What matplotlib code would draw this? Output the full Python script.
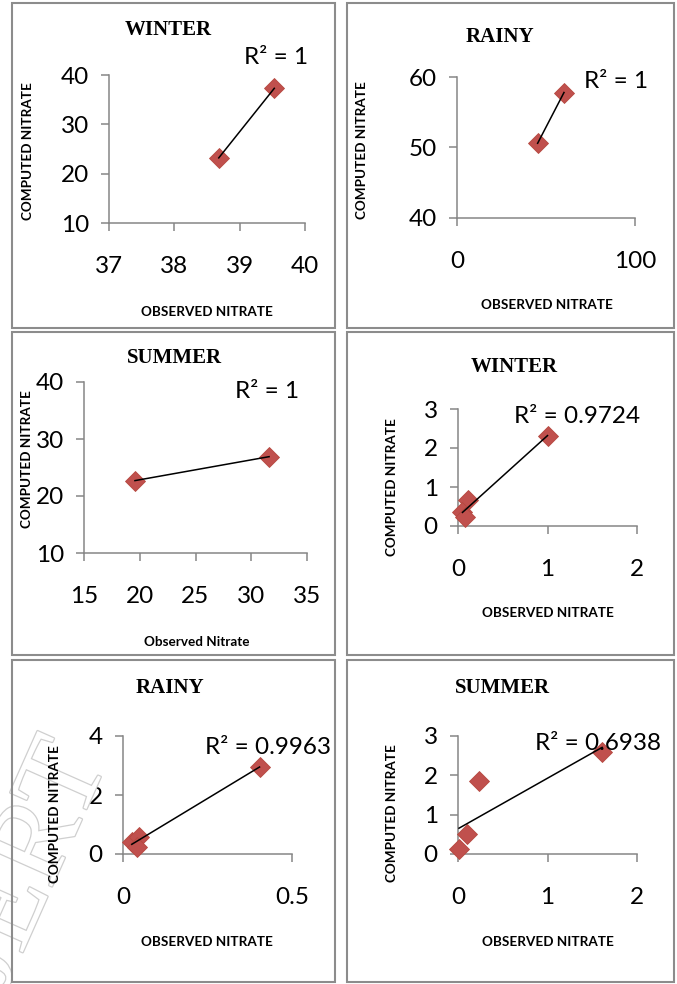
import numpy as np
import matplotlib
matplotlib.use("Agg")
import matplotlib.pyplot as plt
import matplotlib.patheffects as pe
from matplotlib.patches import Rectangle
from matplotlib.ticker import FuncFormatter

W, H = 677, 984

# data
titles = ["WINTER", "RAINY", "SUMMER", "WINTER", "RAINY", "SUMMER"]
xlabels = ["OBSERVED NITRATE", "OBSERVED NITRATE", "Observed Nitrate",
           "OBSERVED NITRATE", "OBSERVED NITRATE", "OBSERVED NITRATE"]
r2_labels = ["R² = 1", "R² = 1", "R² = 1", "R² = 0.9724", "R² = 0.9963", "R² = 0.6938"]

winter1_obs = [38.68, 39.53]
winter1_comp = [23.2, 37.3]
rainy1_obs = [45.3, 60.1]
rainy1_comp = [50.6, 57.8]
summer1_obs = [19.57, 31.6]
summer1_comp = [22.7, 26.9]
winter2_obs = [0.115, 0.05, 0.075, 1.0]
winter2_comp = [0.67, 0.35, 0.22, 2.31]
rainy2_obs = [0.026, 0.048, 0.041, 0.404]
rainy2_comp = [0.40, 0.59, 0.25, 2.95]
summer2_obs = [0.011, 0.097, 0.23, 1.61]
summer2_comp = [0.12, 0.50, 1.85, 2.60]

obs = [winter1_obs, rainy1_obs, summer1_obs, winter2_obs, rainy2_obs, summer2_obs]
comp = [winter1_comp, rainy1_comp, summer1_comp, winter2_comp, rainy2_comp, summer2_comp]

xlims = [(37, 40), (0, 100), (15, 35), (0, 2), (0, 0.5), (0, 2)]
ylims = [(10, 40), (40, 60), (10, 40), (0, 3), (0, 4), (0, 3)]
xticks = [[37, 38, 39, 40], [0, 100], [15, 20, 25, 30, 35], [0, 1, 2], [0, 0.5], [0, 1, 2]]
yticks = [[10, 20, 30, 40], [40, 50, 60], [10, 20, 30, 40], [0, 1, 2, 3], [0, 2, 4], [0, 1, 2, 3]]

# layout in pixels (left, top, right, bottom)
plot_boxes = [(109, 75, 305, 223), (457, 77, 635, 218), (84, 382, 307, 553),
              (458, 409, 637, 526), (123, 736, 292, 854), (458, 736, 637, 854)]
frames = [(12, 3, 335, 328), (347, 3, 674, 328), (12, 332, 335, 655),
          (347, 332, 674, 655), (12, 660, 335, 982), (347, 660, 674, 982)]
title_pos = [(168, 30), (500, 37), (174, 358), (514, 367), (170, 688), (502, 688)]
r2_pos = [(276, 57), (616, 82), (267, 392), (577, 416), (268, 748), (598, 744)]
xlab_pos = [(207, 312), (547, 305), (197, 642), (548, 613), (207, 942), (548, 942)]
ylab_pos = [(28, 151), (362, 150), (27, 459), (392, 487), (55, 814), (392, 813)]

AXIS = "#868686"
RED = "#C0504D"


def fx(x, y):
    return x / W, 1 - y / H


fig = plt.figure(figsize=(W / 100, H / 100), dpi=100)
fig.patch.set_facecolor("white")

# faint watermark (runs off the left edge, as in the source)
fig.text(*fx(22, 885), "IJERT", fontsize=84, family="Liberation Serif",
         rotation=66, ha="center", va="center", color="white", zorder=0,
         path_effects=[pe.withStroke(linewidth=1.8, foreground="#cfcfcf")])

for i in range(6):
    l, t, r, b = frames[i]
    fig.patches.append(Rectangle(fx(l, b), (r - l) / W, (b - t) / H, transform=fig.transFigure,
                                 fill=False, edgecolor="#8c8c8c", linewidth=1.5))

    l, t, r, b = plot_boxes[i]
    x0, y0 = fx(l, b)
    ax = fig.add_axes([x0, y0, (r - l) / W, (b - t) / H])
    ax.patch.set_alpha(0)
    x = np.array(obs[i])
    y = np.array(comp[i])
    ax.plot(x, y, linestyle="none", marker="D", markersize=10.5, color=RED,
            markeredgecolor="#b5483f", markeredgewidth=0.6, zorder=3, clip_on=False)
    k, c = np.polyfit(x, y, 1)
    xs = np.array([x.min(), x.max()])
    ax.plot(xs, k * xs + c, color="black", linewidth=1.1, zorder=4, clip_on=False)

    ax.set_xlim(*xlims[i])
    ax.set_ylim(*ylims[i])
    ax.set_xticks(xticks[i])
    ax.set_yticks(yticks[i])
    ax.xaxis.set_major_formatter(FuncFormatter(lambda v, p: "%g" % v))
    ax.yaxis.set_major_formatter(FuncFormatter(lambda v, p: "%g" % v))
    for s in ["top", "right"]:
        ax.spines[s].set_visible(False)
    for s in ["left", "bottom"]:
        ax.spines[s].set_color(AXIS)
        ax.spines[s].set_linewidth(1.1)
    ax.tick_params(axis="both", direction="out", length=5.5, width=1.1, color=AXIS,
                   labelsize=17.5, labelcolor="black")
    ax.tick_params(axis="x", pad=18)
    ax.tick_params(axis="y", pad=9)
    for lab in ax.get_xticklabels() + ax.get_yticklabels():
        lab.set_family("Lato")

    fig.text(*fx(*title_pos[i]), titles[i], family="Liberation Serif", weight="bold",
             fontsize=15, ha="center", va="center")
    fig.text(*fx(*r2_pos[i]), r2_labels[i], family="Lato", fontsize=17.5,
             ha="center", va="center", zorder=5)
    fig.text(*fx(*xlab_pos[i]), xlabels[i], family="Lato", weight="bold",
             fontsize=9.7, ha="center", va="center")
    fig.text(*fx(*ylab_pos[i]), "COMPUTED NITRATE", family="Lato", weight="bold",
             fontsize=9.7, ha="center", va="center", rotation=90)

fig.savefig("out.png", dpi=100)
